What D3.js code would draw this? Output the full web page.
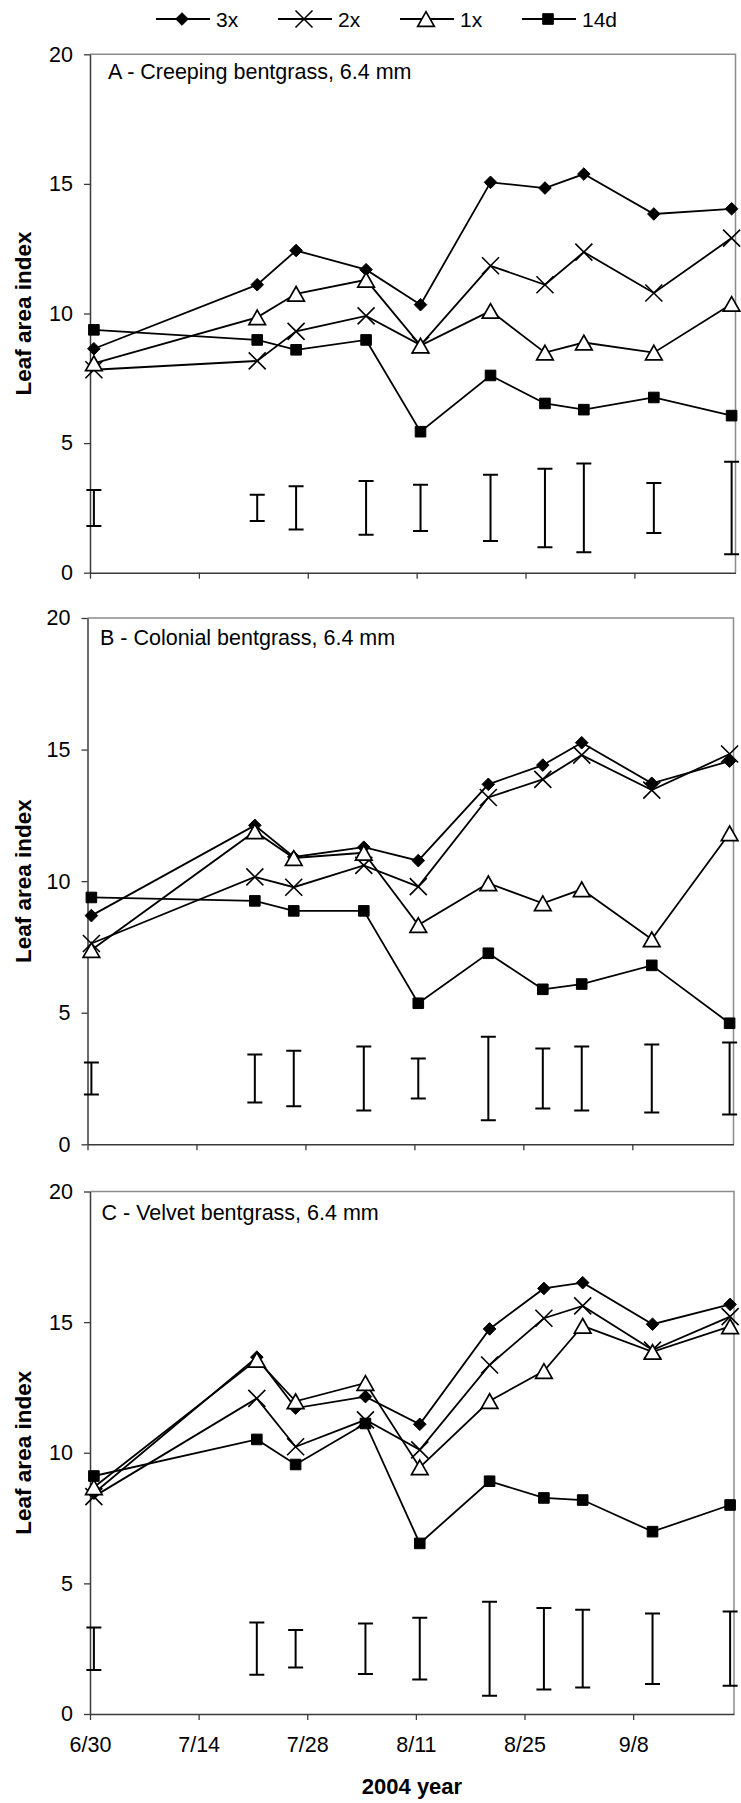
<!DOCTYPE html>
<html>
<head>
<meta charset="utf-8">
<script src="https://cdn.jsdelivr.net/npm/d3@7"></script>
<style>
  html, body { margin: 0; padding: 0; background: #fff; }
  svg { display: block; font-family: "Liberation Sans", Arial, Helvetica, sans-serif; }
</style>
</head>
<body>
<svg id="chart" width="741" height="1803"></svg>
<script>
// ---- Data -------------------------------------------------------------
const sampleDates = ["2004-06-30", "2004-07-21", "2004-07-26", "2004-08-04", "2004-08-11",
                     "2004-08-20", "2004-08-27", "2004-09-01", "2004-09-10", "2004-09-20"];
const seriesNames = ["3x", "2x", "1x", "14d"];
const yTickValues = [0, 5, 10, 15, 20];
const xTickLabels = ["6/30", "7/14", "7/28", "8/11", "8/25", "9/8"];
const panelTitles = ["A - Creeping bentgrass, 6.4 mm",
                     "B - Colonial bentgrass, 6.4 mm",
                     "C - Velvet bentgrass, 6.4 mm"];

// A - Creeping bentgrass
const creeping3x  = [8.64, 11.11, 12.43, 11.69, 10.34, 15.06, 14.84, 15.38, 13.84, 14.04];
const creeping2x  = [7.83,  8.17,  9.31,  9.91,  8.78, 11.84, 11.11, 12.37, 10.79, 12.91];
const creeping1x  = [8.08,  9.85, 10.76, 11.30,  8.76, 10.10,  8.49,  8.88,  8.49, 10.37];
const creeping14d = [9.37,  8.98,  8.60,  8.98,  5.44,  7.61,  6.53,  6.29,  6.76,  6.06];
const creepingLsd = [1.39,  1.01,  1.67,  2.08,  1.79,  2.56,  3.03,  3.42,  1.93,  3.57];

// B - Colonial bentgrass
const colonial3x  = [8.69, 12.12, 10.92, 11.29, 10.78, 13.68, 14.41, 15.26, 13.72, 14.56];
const colonial2x  = [7.63, 10.16,  9.77, 10.60,  9.79, 13.18, 13.87, 14.79, 13.46, 14.83];
const colonial1x  = [7.38, 11.89, 10.88, 11.08,  8.33,  9.92,  9.16,  9.69,  7.79, 11.82];
const colonial14d = [9.38,  9.25,  8.87,  8.87,  5.36,  7.26,  5.89,  6.09,  6.80,  4.60];
const colonialLsd = [1.22,  1.82,  2.11,  2.44,  1.52,  3.18,  2.28,  2.43,  2.58,  2.74];

// C - Velvet bentgrass
const velvet3x  = [8.45, 13.66, 11.71, 12.15, 11.09, 14.74, 16.29, 16.51, 14.92, 15.68];
const velvet2x  = [8.32, 12.08, 10.23, 11.26, 10.11, 13.36, 15.15, 15.62, 13.93, 15.21];
const velvet1x  = [8.68, 13.56, 11.97, 12.67,  9.44, 11.98, 13.13, 14.86, 13.86, 14.84];
const velvet14d = [9.11, 10.51,  9.55, 11.12,  6.53,  8.91,  8.27,  8.19,  6.98,  8.00];
const velvetLsd = [1.63,  2.00,  1.44,  1.93,  2.36,  3.60,  3.12,  2.98,  2.70,  2.84];

// LSD bars are drawn centred on this value
const lsdCenter = 2.5;

// ---- Layout -----------------------------------------------------------
const parseDate = d3.timeParse("%Y-%m-%d");
const xStart = parseDate("2004-06-30");
const xEnd = parseDate("2004-09-21");

const panels = [
  { title: panelTitles[0], series: [creeping3x, creeping2x, creeping1x, creeping14d], lsd: creepingLsd,
    top: 54.3, bottom: 572.7, left: 90, right: 735.5, titleX: 108, titleDy: 25, showLabels: false },
  { title: panelTitles[1], series: [colonial3x, colonial2x, colonial1x, colonial14d], lsd: colonialLsd,
    top: 618, bottom: 1144.3, left: 87.5, right: 733.5, titleX: 100, titleDy: 27, showLabels: false },
  { title: panelTitles[2], series: [velvet3x, velvet2x, velvet1x, velvet14d], lsd: velvetLsd,
    top: 1191.5, bottom: 1714, left: 90, right: 734, titleX: 101.5, titleDy: 28.5, showLabels: true }
];

const FONT_SIZE = 21.5;
const AXIS_COLOR = "#3a3a3a";
const BORDER_COLOR = "#8c8c8c";

const svg = d3.select("#chart");

// Marker shapes, centred on (0,0)
const markerPaths = {
  "3x":  "M0,-6.3L6.3,0L0,6.3L-6.3,0Z",
  "2x":  "M-8.5,-8.5L8.5,8.5M-8.5,8.5L8.5,-8.5",
  "1x":  "M0,-7.3L8.3,7.3L-8.3,7.3Z",
  "14d": "M-5.3,-5.3H5.3V5.3H-5.3Z"
};
const markerFill = { "3x": "#000", "2x": "none", "1x": "#fff", "14d": "#000" };

function drawMarker(g, name) {
  return g.append("path")
    .attr("d", markerPaths[name])
    .attr("fill", markerFill[name])
    .attr("stroke", "#000")
    .attr("stroke-width", name === "1x" ? 1.7 : (name === "2x" ? 1.6 : 1))
    .attr("stroke-linejoin", "miter");
}

const tickDates = d3.timeDay.range(xStart, xEnd, 1).filter((d, i) => i % 14 === 0);

panels.forEach(p => {
  const x = d3.scaleTime().domain([xStart, xEnd]).range([p.left, p.right]);
  const y = d3.scaleLinear().domain([0, 20]).range([p.bottom, p.top]);
  // points sit in the middle of their day
  const px = ds => x(d3.timeHour.offset(parseDate(ds), 12));

  const g = svg.append("g");

  // plot-area border (top and right)
  g.append("path")
    .attr("d", `M${p.left},${p.top}H${p.right}V${p.bottom}`)
    .attr("fill", "none")
    .attr("stroke", BORDER_COLOR)
    .attr("stroke-width", 1.5);

  // y axis
  const yAxis = g.append("g")
    .attr("transform", `translate(${p.left},0)`)
    .call(d3.axisLeft(y).tickValues(yTickValues).tickSize(6).tickPadding(11).tickSizeOuter(0));
  yAxis.select(".domain").attr("stroke", AXIS_COLOR).attr("stroke-width", 1.5);
  yAxis.selectAll(".tick line").attr("stroke", AXIS_COLOR).attr("stroke-width", 1.3);
  yAxis.selectAll(".tick text")
    .attr("font-size", FONT_SIZE)
    .attr("font-family", "Liberation Sans, Arial, sans-serif")
    .attr("fill", "#000");

  // x axis
  const xAxis = g.append("g")
    .attr("transform", `translate(0,${p.bottom})`)
    .call(d3.axisBottom(x)
      .tickValues(tickDates)
      .tickSize(6).tickPadding(17).tickSizeOuter(0)
      .tickFormat((d, i) => p.showLabels ? xTickLabels[i] : ""));
  xAxis.select(".domain").attr("stroke", AXIS_COLOR).attr("stroke-width", 1.5);
  xAxis.selectAll(".tick line").attr("stroke", AXIS_COLOR).attr("stroke-width", 1.3);
  xAxis.selectAll(".tick text")
    .attr("font-size", FONT_SIZE)
    .attr("font-family", "Liberation Sans, Arial, sans-serif")
    .attr("fill", "#000");

  // y axis title
  g.append("text")
    .attr("transform", `translate(31,${(p.top + p.bottom) / 2}) rotate(-90)`)
    .attr("text-anchor", "middle")
    .attr("font-size", 22.5)
    .attr("font-weight", "bold")
    .text("Leaf area index");

  // panel title
  g.append("text")
    .attr("x", p.titleX)
    .attr("y", p.top + p.titleDy)
    .attr("font-size", FONT_SIZE)
    .text(p.title);

  // LSD bars
  const bars = g.append("g").attr("stroke", "#000").attr("stroke-width", 2).attr("fill", "none");
  p.lsd.forEach((v, i) => {
    const cx = px(sampleDates[i]);
    const y1 = y(lsdCenter + v / 2), y2 = y(lsdCenter - v / 2);
    bars.append("path")
      .attr("d", `M${cx},${y1}V${y2}M${cx - 7.5},${y1}H${cx + 7.5}M${cx - 7.5},${y2}H${cx + 7.5}`);
  });

  // series lines + markers
  const line = d3.line().x((d, i) => px(sampleDates[i])).y(d => y(d));
  p.series.forEach((vals, si) => {
    const name = seriesNames[si];
    g.append("path")
      .attr("d", line(vals))
      .attr("fill", "none")
      .attr("stroke", "#000")
      .attr("stroke-width", 1.8)
      .attr("stroke-linejoin", "miter");
    vals.forEach((v, i) => {
      drawMarker(g, name).attr("transform", `translate(${px(sampleDates[i])},${y(v)})`);
    });
  });
});

// x axis title
svg.append("text")
  .attr("x", 412)
  .attr("y", 1794)
  .attr("text-anchor", "middle")
  .attr("font-size", 22)
  .attr("font-weight", "bold")
  .text("2004 year");

// legend
const legend = svg.append("g").attr("transform", "translate(156,19)");
seriesNames.forEach((name, i) => {
  const lg = legend.append("g").attr("transform", `translate(${i * 122},0)`);
  lg.append("line").attr("x1", 0).attr("x2", 54).attr("y1", 0).attr("y2", 0)
    .attr("stroke", "#000").attr("stroke-width", 1.8);
  drawMarker(lg, name).attr("transform", "translate(26,0)");
  lg.append("text")
    .attr("x", 60).attr("y", 0).attr("dy", "0.36em")
    .attr("font-size", 21)
    .text(name);
});
</script>
</body>
</html>
